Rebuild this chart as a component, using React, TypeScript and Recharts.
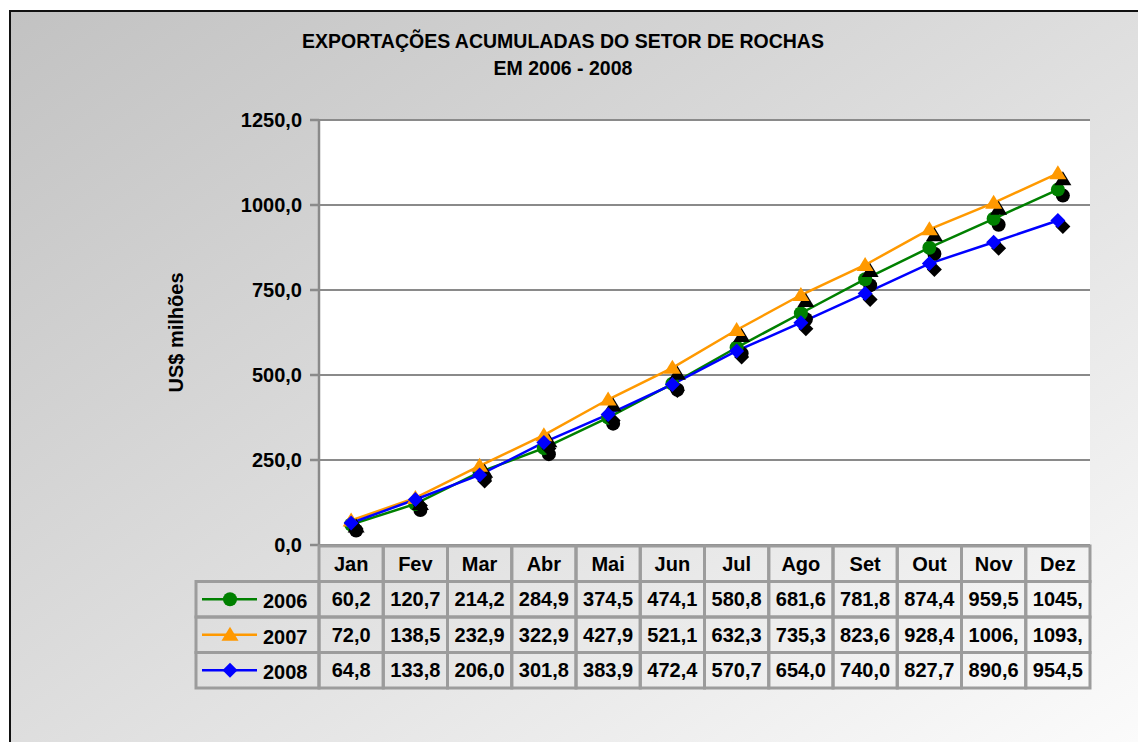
import React from "react";
import { LineChart, Line, XAxis, YAxis, CartesianGrid } from "recharts";

// dados (US$ milhões, acumulado)
const months = ["Jan", "Fev", "Mar", "Abr", "Mai", "Jun", "Jul", "Ago", "Set", "Out", "Nov", "Dez"];
const values2006 = [60.2, 120.7, 214.2, 284.9, 374.5, 474.1, 580.8, 681.6, 781.8, 874.4, 959.5, 1045.3];
const values2007 = [72.0, 138.5, 232.9, 322.9, 427.9, 521.1, 632.3, 735.3, 823.6, 928.4, 1006.4, 1093.2];
const values2008 = [64.8, 133.8, 206.0, 301.8, 383.9, 472.4, 570.7, 654.0, 740.0, 827.7, 890.6, 954.5];
const yTicks = [0, 250, 500, 750, 1000, 1250];

const series = [
  { key: "y2006", name: "2006", color: "#008000", shape: "circle", values: values2006 },
  { key: "y2007", name: "2007", color: "#FF9900", shape: "triangle", values: values2007 },
  { key: "y2008", name: "2008", color: "#0000FF", shape: "diamond", values: values2008 },
];

const data = months.map((month, i) => {
  const row: any = { month };
  series.forEach((s) => (row[s.key] = s.values[i]));
  return row;
});

// layout
const W = 1138;
const H = 742;
const PLOT_LEFT = 319;
const PLOT_RIGHT = 1090;
const PLOT_TOP = 120;
const PLOT_BOTTOM = 545;
const STEP = (PLOT_RIGHT - PLOT_LEFT) / months.length;
const TABLE_TOP = 546;
const ROW_H = 35.5;
const LEGEND_LEFT = 196;
const GRID = "#8a8a8a";
const CELL_BORDER = "#9c9c9c";
const FONT = "'Liberation Sans', Arial, sans-serif";

const fmt = (v: number) => v.toFixed(1).replace(".", ",");
// o Excel corta o texto que não cabe na célula
const cellText = (v: number) => fmt(v).slice(0, 5);

function Marker({ shape, cx, cy, fill }: { shape: string; cx: number; cy: number; fill: string }) {
  if (shape === "circle") return <circle cx={cx} cy={cy} r={7} fill={fill} />;
  if (shape === "triangle")
    return <polygon points={`${cx},${cy - 8} ${cx + 8.5},${cy + 6} ${cx - 8.5},${cy + 6}`} fill={fill} />;
  return <polygon points={`${cx},${cy - 7.5} ${cx + 7.5},${cy} ${cx},${cy + 7.5} ${cx - 7.5},${cy}`} fill={fill} />;
}

const makeDot = (shape: string, color: string) => (props: any) => {
  const { cx, cy, index } = props;
  if (cx == null || cy == null) return <g key={index} />;
  return (
    <g key={index}>
      <Marker shape={shape} cx={cx + 5} cy={cy + 6} fill="#000" />
      <Marker shape={shape} cx={cx} cy={cy} fill={color} />
    </g>
  );
};

const textStyle = { fontFamily: FONT, fontSize: 20, fontWeight: 700, fill: "#000" } as const;

function TableColumn(props: any) {
  const { x, payload } = props;
  const i = months.indexOf(payload.value);
  const left = x - STEP / 2;
  return (
    <g>
      {[0, 1, 2, 3].map((r) => (
        <rect
          key={r}
          x={left}
          y={TABLE_TOP + r * ROW_H}
          width={STEP}
          height={ROW_H}
          fill="none"
          stroke={CELL_BORDER}
          strokeWidth={3}
        />
      ))}
      <text x={x} y={TABLE_TOP + ROW_H / 2} dy="0.36em" textAnchor="middle" style={textStyle}>
        {payload.value}
      </text>
      {series.map((s, r) => (
        <text
          key={s.key}
          x={x}
          y={TABLE_TOP + (r + 1.5) * ROW_H}
          dy="0.36em"
          textAnchor="middle"
          style={textStyle}
        >
          {cellText(s.values[i])}
        </text>
      ))}
      {i === 0 &&
        series.map((s, r) => {
          const top = TABLE_TOP + (r + 1) * ROW_H;
          const cy = top + ROW_H / 2;
          return (
            <g key={"lg" + s.key}>
              <rect
                x={LEGEND_LEFT}
                y={top}
                width={left - LEGEND_LEFT}
                height={ROW_H}
                fill="none"
                stroke={CELL_BORDER}
                strokeWidth={3}
              />
              <line x1={LEGEND_LEFT + 6} x2={LEGEND_LEFT + 61} y1={cy} y2={cy} stroke={s.color} strokeWidth={2.5} />
              <Marker shape={s.shape} cx={LEGEND_LEFT + 34} cy={cy} fill={s.color} />
              <text x={LEGEND_LEFT + 67} y={cy} dy="0.45em" textAnchor="start" style={textStyle}>
                {s.name}
              </text>
            </g>
          );
        })}
    </g>
  );
}

export default function App() {
  return (
    <div style={{ position: "fixed", left: 0, top: 0, width: W, height: H, background: "#fff", overflow: "hidden" }}>
      <div
        style={{
          position: "absolute",
          left: 9,
          top: 10,
          width: W + 20,
          height: H + 20,
          border: "2px solid #111",
          background: "linear-gradient(to bottom right, #c2c2c2 0%, #dcdcdc 45%, #fdfdfd 100%)",
        }}
      />
      <div
        style={{
          position: "absolute",
          left: 263,
          top: 28,
          width: 600,
          textAlign: "center",
          fontFamily: FONT,
          fontSize: 19.5,
          fontWeight: 700,
          lineHeight: "27px",
          color: "#000",
        }}
      >
        EXPORTAÇÕES ACUMULADAS DO SETOR DE ROCHAS
        <br />
        EM 2006 - 2008
      </div>
      <div style={{ position: "absolute", left: 0, top: 0 }}>
        <LineChart
          width={W}
          height={H}
          data={data}
          margin={{ top: PLOT_TOP, right: W - PLOT_RIGHT, bottom: 0, left: 0 }}
        >
          <CartesianGrid vertical={false} stroke={GRID} strokeWidth={2} fill="#fff" fillOpacity={1} />
          <XAxis
            dataKey="month"
            height={H - PLOT_BOTTOM}
            interval={0}
            tickLine={false}
            axisLine={false}
            padding={{ left: STEP / 2, right: STEP / 2 }}
            tick={<TableColumn />}
          />
          <YAxis
            width={PLOT_LEFT}
            domain={[0, 1250]}
            ticks={yTicks}
            tickFormatter={fmt}
            tickSize={9}
            tickMargin={8}
            tickLine={{ stroke: GRID, strokeWidth: 2.5 }}
            axisLine={{ stroke: GRID, strokeWidth: 2.5 }}
            tick={textStyle}
            label={{
              content: (p: any) => {
                const vb = p.viewBox || {};
                const cy = (vb.y ?? PLOT_TOP) + (vb.height ?? PLOT_BOTTOM - PLOT_TOP) / 2;
                return (
                  <text
                    x={176}
                    y={cy}
                    transform={`rotate(-90 176 ${cy})`}
                    textAnchor="middle"
                    dy="0.36em"
                    style={textStyle}
                  >
                    US$ milhões
                  </text>
                );
              },
            }}
          />
          <YAxis
            yAxisId="right"
            orientation="right"
            width={0}
            domain={[0, 1250]}
            ticks={yTicks}
            tick={false}
            tickLine={false}
            axisLine={{ stroke: GRID, strokeWidth: 2.5 }}
          />
          {series.map((s) => (
            <Line
              key={s.key}
              type="linear"
              dataKey={s.key}
              name={s.name}
              stroke={s.color}
              strokeWidth={2.5}
              dot={makeDot(s.shape, s.color)}
              activeDot={false}
              isAnimationActive={false}
            />
          ))}
        </LineChart>
      </div>
    </div>
  );
}
